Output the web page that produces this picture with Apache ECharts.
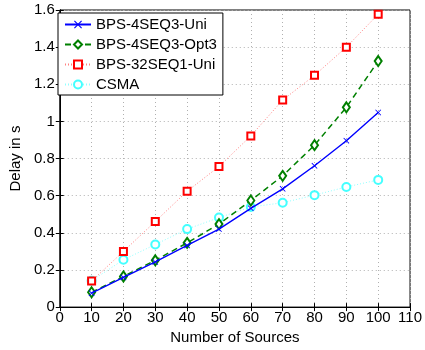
<!DOCTYPE html>
<html><head><meta charset="utf-8">
<script src="https://cdn.jsdelivr.net/npm/echarts@6/dist/echarts.min.js"></script>
<style>html,body{margin:0;padding:0;background:#fff}#c{width:425px;height:350px}</style>
</head><body><div id="c"></div>
<script>
const sources = [10, 20, 30, 40, 50, 60, 70, 80, 90, 100];
const uni4 = [0.075, 0.16, 0.243, 0.332, 0.42, 0.532, 0.637, 0.761, 0.896, 1.048];
const opt4 = [0.08, 0.165, 0.252, 0.346, 0.447, 0.574, 0.707, 0.872, 1.076, 1.325];
const uni32 = [0.14, 0.30, 0.461, 0.624, 0.757, 0.922, 1.115, 1.248, 1.40, 1.577];
const csma = [0.142, 0.255, 0.337, 0.42, 0.482, 0.539, 0.562, 0.603, 0.647, 0.685];
const names = ['BPS-4SEQ3-Uni', 'BPS-4SEQ3-Opt3', 'BPS-32SEQ1-Uni', 'CSMA'];

const pair = a => sources.map((s, i) => [s, a[i]]);
const FONT = 'Liberation Sans';
const crossPath = 'path://M0,1 L1,0 L5,4 L9,0 L10,1 L6,5 L10,9 L9,10 L5,6 L1,10 L0,9 L4,5 Z';

const chart = echarts.init(document.getElementById('c'));
chart.setOption({
  animation: false,
  backgroundColor: '#fff',
  grid: { left: 54, right: 12, top: 10, bottom: 39, show: true, borderColor: '#000', borderWidth: 1 },
  legend: {
    orient: 'vertical', left: 58, top: 13,
    backgroundColor: '#fff', borderColor: '#000', borderWidth: 1,
    padding: [4, 6, 3, 6], itemGap: 5, itemWidth: 26, itemHeight: 10,
    textStyle: { fontFamily: FONT, fontSize: 15, color: '#000' },
    data: names
  },
  xAxis: [{
    type: 'value', min: 0, max: 110, interval: 10,
    name: 'Number of Sources', nameLocation: 'middle', nameGap: 21,
    nameTextStyle: { fontFamily: FONT, fontSize: 15, color: '#000' },
    axisLine: { lineStyle: { color: '#000' } },
    axisTick: { inside: true, length: 4, lineStyle: { color: '#000' } },
    axisLabel: { fontFamily: FONT, fontSize: 15, color: '#000', margin: 3 },
    splitLine: { show: true, lineStyle: { color: '#b0b0b0', type: [1, 3] } }
  }, {
    type: 'value', position: 'top', min: 0, max: 110, interval: 10,
    axisLine: { show: true, lineStyle: { color: '#000' } },
    axisTick: { show: true, inside: true, length: 4, lineStyle: { color: '#000' } },
    axisLabel: { show: false }, splitLine: { show: false }
  }],
  yAxis: [{
    type: 'value', min: 0, max: 1.6, interval: 0.2,
    name: 'Delay in s', nameLocation: 'middle', nameGap: 30,
    nameTextStyle: { fontFamily: FONT, fontSize: 15, color: '#000' },
    axisLine: { show: true, lineStyle: { color: '#000' } },
    axisTick: { show: true, inside: true, length: 4, lineStyle: { color: '#000' } },
    axisLabel: { fontFamily: FONT, fontSize: 15, color: '#000', margin: 5 },
    splitLine: { show: true, lineStyle: { color: '#b0b0b0', type: [1, 3] } }
  }, {
    type: 'value', position: 'right', min: 0, max: 1.6, interval: 0.2,
    axisLine: { show: true, lineStyle: { color: '#000' } },
    axisTick: { show: true, inside: true, length: 4, lineStyle: { color: '#000' } },
    axisLabel: { show: false }, splitLine: { show: false }
  }],
  series: [
    { name: names[2], type: 'line', data: pair(uni32), symbol: 'emptyRect', symbolSize: 7, z: 3,
      color: '#ff0000',
      lineStyle: { color: '#ff8080', width: 1, type: [1, 2] },
      itemStyle: { color: '#ff0000', borderColor: '#ff0000', borderWidth: 1.3 } },
    { name: names[3], type: 'line', data: pair(csma), symbol: 'emptyCircle', symbolSize: 8, z: 2,
      color: '#44ffff',
      lineStyle: { color: '#90ffff', width: 1, type: [1, 2] },
      itemStyle: { color: '#44ffff', borderColor: '#44ffff', borderWidth: 1.3 } },
    { name: names[1], type: 'line', data: pair(opt4), symbol: 'emptyDiamond', symbolSize: [7, 10], z: 4,
      color: '#008000',
      lineStyle: { color: '#008000', width: 1.5, type: [6, 4] },
      itemStyle: { color: '#008000', borderColor: '#008000', borderWidth: 1.3 } },
    { name: names[0], type: 'line', data: pair(uni4), symbol: crossPath, symbolSize: 6, z: 5,
      color: '#0000ff',
      lineStyle: { color: '#0000ff', width: 1.4 },
      itemStyle: { color: '#0000ff' } }
  ]
});
</script></body></html>
